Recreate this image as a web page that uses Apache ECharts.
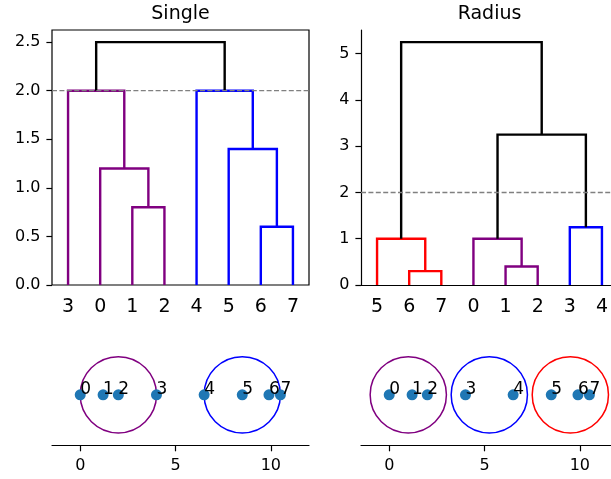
<!DOCTYPE html>
<html><head><meta charset="utf-8">
<script src="https://cdn.jsdelivr.net/npm/echarts@6/dist/echarts.min.js"></script>
<style>html,body{margin:0;padding:0;background:#fff}#c{width:611px;height:479px}</style>
</head><body><div id="c"></div>
<script>
// ---- data ----
const pointX = [0, 1.2, 2.0, 4.0, 6.5, 8.5, 9.9, 10.5];
const pointLabels = ['0', '1', '2', '3', '4', '5', '6', '7'];
const threshold = 2.0;
const circleRadius = 2.0;
// linkage rows: [childA, childB, height]; merged cluster ids start at 8
const singleLinkage = [[6, 7, 0.6], [1, 2, 0.8], [0, 9, 1.2], [5, 8, 1.4], [3, 10, 2.0], [4, 11, 2.0], [12, 13, 2.5]];
const radiusLinkage = [[6, 7, 0.3], [1, 2, 0.4], [5, 8, 1.0], [0, 9, 1.0], [3, 4, 1.25], [11, 12, 3.25], [10, 13, 5.25]];
const singleClusters = [0, 0, 0, 0, 1, 1, 1, 1];
const radiusClusters = [0, 0, 0, 1, 1, 2, 2, 2];
const singleCenters = [[2.0, 0], [8.5, 1]];
const radiusCenters = [[1.0, 0], [5.25, 1], [9.5, 2]];
const singleYTicks = [0, 0.5, 1.0, 1.5, 2.0, 2.5];
const radiusYTicks = [0, 1, 2, 3, 4, 5];
const bottomXTicks = [0, 5, 10];
const titles = ['Single', 'Radius'];

// ---- styles ----
const singlePalette = ['#800080', '#0000ff'];
const radiusPalette = ['#800080', '#0000ff', '#ff0000'];
const FONT = 'DejaVu Sans';
const CW = 611;

function layout(Z, n, clusters, palette) {
  const root = n + Z.length - 1;
  const order = [];
  (function walk(id) { if (id < n) { order.push(id); return; } const r = Z[id - n]; walk(r[0]); walk(r[1]); })(root);
  const pos = {}, hgt = {}, leaves = {};
  order.forEach((leaf, i) => { pos[leaf] = 5 + 10 * i; hgt[leaf] = 0; leaves[leaf] = [leaf]; });
  const links = [], colors = [];
  Z.forEach((r, k) => {
    const id = n + k, a = r[0], b = r[1];
    links.push([pos[a], pos[b], hgt[a], hgt[b], r[2]]);
    pos[id] = (pos[a] + pos[b]) / 2; hgt[id] = r[2]; leaves[id] = leaves[a].concat(leaves[b]);
    colors.push(r[2] <= threshold ? palette[clusters[leaves[id][0]]] : '#000000');
  });
  return { order, links, colors, maxH: Math.max(...Z.map(r => r[2])) };
}

const L = [layout(singleLinkage, 8, singleClusters, singlePalette), layout(radiusLinkage, 8, radiusClusters, radiusPalette)];
const yTicks = [singleYTicks, radiusYTicks];
const centers = [singleCenters, radiusCenters];
const palettes = [singlePalette, radiusPalette];
const gx = [52, 361];
const GW = 257;
const xMinB = -1.48, xMaxB = 12.0;
const pxPerUnit = GW / (xMaxB - xMinB);
const yHalf = 2.67;
const bottomH = 2 * yHalf * pxPerUnit;
const bottomSpineY = 445.7;
const spine = { color: '#000', width: 1.2 };

const grids = [], xAxes = [], yAxes = [], series = [], graphics = [], extraX = [];
for (let p = 0; p < 2; p++) {
  const lay = L[p];
  const W = Math.min(GW, CW - gx[p]);           // visible part of the axes box
  const frac = W / GW;
  const clipped = W < GW;
  grids.push({ left: gx[p], top: 30, width: W, height: 255, show: !clipped, borderColor: '#000', borderWidth: 1.2, backgroundColor: 'transparent' });
  const leafTicks = lay.order.map((_, i) => 5 + 10 * i);
  xAxes.push({
    type: 'value', gridIndex: 2 * p, min: 0, max: 80 * frac,
    axisLine: { show: clipped, onZero: false, lineStyle: spine }, axisTick: { show: false }, splitLine: { show: false },
    axisLabel: { customValues: leafTicks, formatter: v => pointLabels[lay.order[Math.round((v - 5) / 10)]], fontSize: 19, fontFamily: FONT, color: '#000', margin: 12.5 }
  });
  if (clipped) {
    extraX.push({ type: 'value', gridIndex: 2 * p, position: 'top', min: 0, max: 80 * frac, axisLine: { show: true, lineStyle: spine }, axisTick: { show: false }, axisLabel: { show: false }, splitLine: { show: false } });
  }
  yAxes.push({
    type: 'value', gridIndex: 2 * p, min: 0, max: lay.maxH * 1.05,
    axisLine: { show: clipped, onZero: false, lineStyle: spine }, splitLine: { show: false },
    axisTick: { show: true, customValues: yTicks[p], length: 5.6, lineStyle: spine },
    axisLabel: { customValues: yTicks[p], formatter: v => p === 0 ? v.toFixed(1) : String(v), fontSize: 16, fontFamily: FONT, color: '#000', margin: 11.5 }
  });
  // bottom scatter panel
  grids.push({ left: gx[p], top: bottomSpineY - bottomH, width: W, height: bottomH, show: false });
  xAxes.push({
    type: 'value', gridIndex: 2 * p + 1, min: xMinB, max: xMinB + (xMaxB - xMinB) * frac,
    axisLine: { show: true, onZero: false, lineStyle: spine },
    axisTick: { show: true, customValues: bottomXTicks, length: 5.6, lineStyle: spine },
    axisLabel: { customValues: bottomXTicks, fontSize: 16, fontFamily: FONT, color: '#000', margin: 12 },
    splitLine: { show: false }
  });
  yAxes.push({ type: 'value', gridIndex: 2 * p + 1, min: -yHalf, max: yHalf, show: false });

  // dendrogram links
  series.push({
    type: 'custom', xAxisIndex: 2 * p, yAxisIndex: 2 * p, z: 3, clip: false,
    encode: { x: [0, 1], y: [2, 3, 4] },
    data: lay.links,
    renderItem: (params, api) => {
      const xl = api.value(0), xr = api.value(1), yl = api.value(2), yr = api.value(3), h = api.value(4);
      return {
        type: 'polyline',
        shape: { points: [api.coord([xl, yl]), api.coord([xl, h]), api.coord([xr, h]), api.coord([xr, yr])] },
        style: { stroke: lay.colors[params.dataIndex], fill: null, lineWidth: 2.4, lineJoin: 'miter', lineCap: 'butt' }
      };
    }
  });
  // threshold line
  series.push({
    type: 'line', xAxisIndex: 2 * p, yAxisIndex: 2 * p, z: 5, symbol: 'none', silent: true,
    data: [[0, threshold], [80, threshold]],
    lineStyle: { color: '#808080', width: 1.3, type: [5, 2.4] }
  });
  // circles
  const pal = palettes[p];
  series.push({
    type: 'custom', xAxisIndex: 2 * p + 1, yAxisIndex: 2 * p + 1, z: 2, clip: false,
    encode: { x: 0 },
    data: centers[p],
    renderItem: (params, api) => {
      const c = api.coord([api.value(0), 0]);
      const r = api.size([circleRadius, 0])[0];
      return { type: 'circle', shape: { cx: c[0], cy: c[1], r: r }, style: { stroke: pal[api.value(1)], fill: null, lineWidth: 1.5 } };
    }
  });
  // points
  series.push({
    type: 'scatter', xAxisIndex: 2 * p + 1, yAxisIndex: 2 * p + 1, z: 3, symbolSize: 11,
    itemStyle: { color: '#1f77b4', opacity: 1 },
    data: pointX.map(x => [x, 0])
  });
  // point labels
  series.push({
    type: 'custom', xAxisIndex: 2 * p + 1, yAxisIndex: 2 * p + 1, z: 6, clip: false,
    encode: { x: 0, y: 1 },
    data: pointX.map(x => [x, 0]),
    renderItem: (params, api) => {
      const c = api.coord([api.value(0), api.value(1)]);
      return { type: 'text', x: c[0], y: c[1] + 3.5, style: { text: pointLabels[params.dataIndex], font: '17px "DejaVu Sans"', fill: '#000', align: 'left', verticalAlign: 'bottom' } };
    }
  });
  graphics.push({ type: 'text', x: gx[p] + GW / 2, y: 14, style: { text: titles[p], font: '19px "DejaVu Sans"', fill: '#000', align: 'center', verticalAlign: 'middle' } });
}

const chart = echarts.init(document.getElementById('c'), null, { renderer: 'canvas' });
chart.setOption({
  animation: false,
  backgroundColor: '#fff',
  grid: grids, xAxis: xAxes.concat(extraX), yAxis: yAxes, series: series,
  graphic: graphics
});
</script>
</body></html>
